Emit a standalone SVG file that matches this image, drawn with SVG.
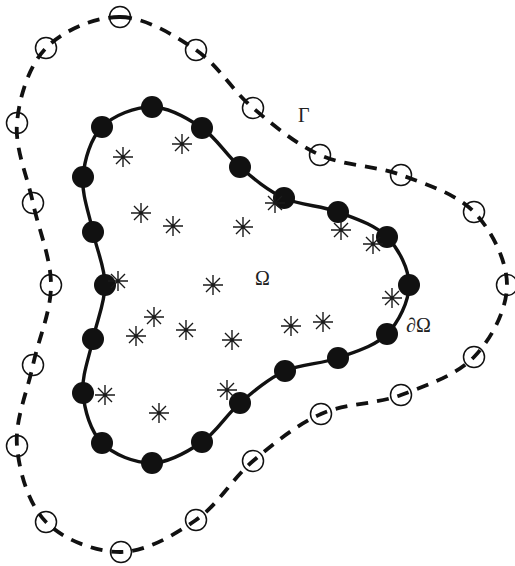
<svg xmlns="http://www.w3.org/2000/svg" xmlns:xlink="http://www.w3.org/1999/xlink" width="515" height="566" viewBox="0 0 515 566">
<style>
.outer{fill:none;stroke:#111;stroke-width:3.8;stroke-dasharray:12 9}
.inner{fill:none;stroke:#111;stroke-width:3.4}
.oc{fill:none;stroke:#111;stroke-width:1.5}
.ic{fill:#111;stroke:none}
.ast{fill:none;stroke:#1a1a1a;stroke-width:1.4}
.lbl{font-family:"Liberation Serif","Times New Roman",serif;font-size:20px;fill:#222}
</style>
<defs>
<path id="star" class="ast" d="M0,-10V10M-10,0H10M-7,-7L7,7M-7,7L7,-7"/>
</defs>
<rect width="515" height="566" fill="#fff"/>
<g id="connectors">
<path id="gamma-curve" class="outer" d="M120,17 C145,17.3 173.8,34.8 196,50 C218.2,65.2 232.3,90.5 253,108 C273.7,125.5 295.3,143.8 320,155 C344.7,166.2 375.3,165.5 401,175 C426.7,184.5 456.3,193.7 474,212 C491.7,230.3 507,260.8 507,285 C507,309.2 491.7,338.7 474,357 C456.3,375.3 426.5,385.5 401,395 C375.5,404.5 345.7,403 321,414 C296.3,425 273.8,443.3 253,461 C232.2,478.7 218,504.8 196,520 C174,535.2 146,551.7 121,552 C96,552.3 63.3,539.7 46,522 C28.7,504.3 19.2,472.2 17,446 C14.8,419.8 27.3,391.8 33,365 C38.7,338.2 51,312 51,285 C51,258 38.7,230 33,203 C27.3,176 14.8,148.8 17,123 C19.2,97.2 28.8,65.7 46,48 C63.2,30.3 95,16.7 120,17 Z"/>
<path id="boundary-curve" class="inner" d="M152,107 C168.7,107.2 187.3,118 202,128 C216.7,138 226.3,155.3 240,167 C253.7,178.7 267.7,190.5 284,198 C300.3,205.5 320.8,205.5 338,212 C355.2,218.5 375.2,224.8 387,237 C398.8,249.2 409,268.8 409,285 C409,301.2 398.8,321.8 387,334 C375.2,346.2 355,351.8 338,358 C321,364.2 301.3,363.5 285,371 C268.7,378.5 253.8,391.2 240,403 C226.2,414.8 216.7,432 202,442 C187.3,452 168.7,462.8 152,463 C135.3,463.2 113.5,454.7 102,443 C90.5,431.3 84.5,410.3 83,393 C81.5,375.7 89.3,357 93,339 C96.7,321 105,302.8 105,285 C105,267.2 96.7,250 93,232 C89.3,214 81.5,194.5 83,177 C84.5,159.5 90.5,138.7 102,127 C113.5,115.3 135.3,106.8 152,107 Z"/>
</g>
<g id="outer-nodes">
<circle id="o1" class="oc" cx="120" cy="17" r="10.5"/>
<circle id="o2" class="oc" cx="196" cy="50" r="10.5"/>
<circle id="o3" class="oc" cx="253" cy="108" r="10.5"/>
<circle id="o4" class="oc" cx="320" cy="155" r="10.5"/>
<circle id="o5" class="oc" cx="401" cy="175" r="10.5"/>
<circle id="o6" class="oc" cx="474" cy="212" r="10.5"/>
<circle id="o7" class="oc" cx="507" cy="285" r="10.5"/>
<circle id="o8" class="oc" cx="474" cy="357" r="10.5"/>
<circle id="o9" class="oc" cx="401" cy="395" r="10.5"/>
<circle id="o10" class="oc" cx="321" cy="414" r="10.5"/>
<circle id="o11" class="oc" cx="253" cy="461" r="10.5"/>
<circle id="o12" class="oc" cx="196" cy="520" r="10.5"/>
<circle id="o13" class="oc" cx="121" cy="552" r="10.5"/>
<circle id="o14" class="oc" cx="46" cy="522" r="10.5"/>
<circle id="o15" class="oc" cx="17" cy="446" r="10.5"/>
<circle id="o16" class="oc" cx="33" cy="365" r="10.5"/>
<circle id="o17" class="oc" cx="51" cy="285" r="10.5"/>
<circle id="o18" class="oc" cx="33" cy="203" r="10.5"/>
<circle id="o19" class="oc" cx="17" cy="123" r="10.5"/>
<circle id="o20" class="oc" cx="46" cy="48" r="10.5"/>
</g>
<g id="boundary-nodes">
<circle id="b1" class="ic" cx="152" cy="107" r="11"/>
<circle id="b2" class="ic" cx="202" cy="128" r="11"/>
<circle id="b3" class="ic" cx="240" cy="167" r="11"/>
<circle id="b4" class="ic" cx="284" cy="198" r="11"/>
<circle id="b5" class="ic" cx="338" cy="212" r="11"/>
<circle id="b6" class="ic" cx="387" cy="237" r="11"/>
<circle id="b7" class="ic" cx="409" cy="285" r="11"/>
<circle id="b8" class="ic" cx="387" cy="334" r="11"/>
<circle id="b9" class="ic" cx="338" cy="358" r="11"/>
<circle id="b10" class="ic" cx="285" cy="371" r="11"/>
<circle id="b11" class="ic" cx="240" cy="403" r="11"/>
<circle id="b12" class="ic" cx="202" cy="442" r="11"/>
<circle id="b13" class="ic" cx="152" cy="463" r="11"/>
<circle id="b14" class="ic" cx="102" cy="443" r="11"/>
<circle id="b15" class="ic" cx="83" cy="393" r="11"/>
<circle id="b16" class="ic" cx="93" cy="339" r="11"/>
<circle id="b17" class="ic" cx="105" cy="285" r="11"/>
<circle id="b18" class="ic" cx="93" cy="232" r="11"/>
<circle id="b19" class="ic" cx="83" cy="177" r="11"/>
<circle id="b20" class="ic" cx="102" cy="127" r="11"/>
</g>
<g id="interior-nodes">
<use id="s1" xlink:href="#star" x="123" y="157"/>
<use id="s2" xlink:href="#star" x="182" y="144"/>
<use id="s3" xlink:href="#star" x="141" y="213"/>
<use id="s4" xlink:href="#star" x="173" y="226"/>
<use id="s5" xlink:href="#star" x="243" y="227"/>
<use id="s6" xlink:href="#star" x="275" y="203"/>
<use id="s7" xlink:href="#star" x="341" y="230"/>
<use id="s8" xlink:href="#star" x="373" y="244"/>
<use id="s9" xlink:href="#star" x="118" y="281"/>
<use id="s10" xlink:href="#star" x="213" y="285"/>
<use id="s11" xlink:href="#star" x="392" y="298"/>
<use id="s12" xlink:href="#star" x="154" y="317"/>
<use id="s13" xlink:href="#star" x="136" y="336"/>
<use id="s14" xlink:href="#star" x="186" y="330"/>
<use id="s15" xlink:href="#star" x="232" y="340"/>
<use id="s16" xlink:href="#star" x="291" y="326"/>
<use id="s17" xlink:href="#star" x="323" y="322"/>
<use id="s18" xlink:href="#star" x="105" y="395"/>
<use id="s19" xlink:href="#star" x="159" y="413"/>
<use id="s20" xlink:href="#star" x="227" y="390"/>
</g>
<g id="labels">
<text class="lbl" x="298" y="122">Γ</text>
<text class="lbl" x="255" y="285">Ω</text>
<text class="lbl" x="406" y="332">∂Ω</text>
</g>
</svg>
